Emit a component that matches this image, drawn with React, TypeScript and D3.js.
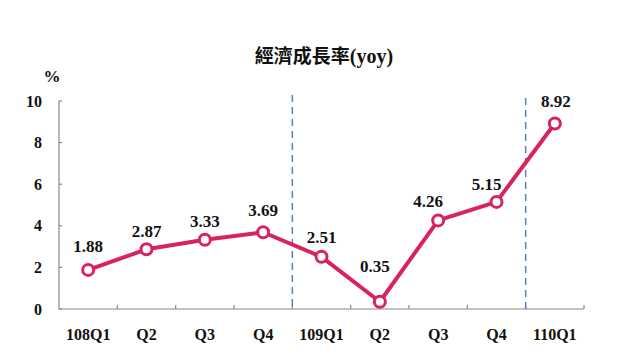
import React from "react";
import * as d3 from "d3";

const categories = ["108Q1", "Q2", "Q3", "Q4", "109Q1", "Q2", "Q3", "Q4", "110Q1"];
const values = [1.88, 2.87, 3.33, 3.69, 2.51, 0.35, 4.26, 5.15, 8.92];
const yTicks = [0, 2, 4, 6, 8, 10];
const dividerAfter = [3, 7];
const title = "經濟成長率";
const titleSuffix = "(yoy)";
const unit = "%";

// label nudges (layout only)
const labelDx = [0, 0, 0, 0, 0, -5, -10, -10, 1];
const labelDy = [-18, -12, -13, -16, -14, -30, -13, -12, -16];

const W = 640, H = 360;
const left = 59, right = 584, top = 101, bottom = 309;
const serif = "'Liberation Serif', 'Times New Roman', serif";
const red = "#d8235d";

export default function App() {
  const x = d3.scaleBand<number>().domain(d3.range(categories.length)).range([left, right]);
  const y = d3.scaleLinear().domain([0, 10]).range([bottom, top]);
  const cx = (i: number) => (x(i) as number) + x.bandwidth() / 2;
  const line = d3.line<number>().x((_, i) => cx(i)).y((d) => y(d));
  const boundaries = d3.range(categories.length + 1).map((i) => left + i * x.bandwidth());

  return (
    <svg width={W} height={H} style={{ position: "absolute", left: 0, top: 0, background: "#fff" }}>
      <text x={324} y={63} textAnchor="middle" fontSize={19} fontWeight="bold"
        fontFamily={"'Noto Sans CJK TC', " + serif} fill="#111">
        {title}<tspan fontFamily={serif} fontSize={20}>{titleSuffix}</tspan>
      </text>
      <text x={52} y={82} textAnchor="middle" fontSize={17} fontWeight="bold" fontFamily={serif} fill="#111">{unit}</text>

      {/* y axis */}
      <line x1={left} x2={left} y1={top} y2={bottom} stroke="#888" strokeWidth={1.2} />
      {yTicks.map((t) => (
        <g key={t}>
          <line x1={left} x2={left + 3} y1={y(t)} y2={y(t)} stroke="#888" strokeWidth={1.2} />
          <text x={42} y={y(t) + 5.5} textAnchor="end" fontSize={16} fontWeight="bold" fontFamily={serif} fill="#111">{t}</text>
        </g>
      ))}

      {/* x axis */}
      <line x1={left} x2={right} y1={bottom} y2={bottom} stroke="#888" strokeWidth={1.2} />
      {boundaries.slice(1).map((b, i) => (
        <line key={i} x1={b} x2={b} y1={bottom} y2={bottom - 4} stroke="#888" strokeWidth={1.2} />
      ))}
      {categories.map((c, i) => (
        <text key={i} x={cx(i)} y={340} textAnchor="middle" fontSize={16} fontWeight="bold" fontFamily={serif} fill="#111">{c}</text>
      ))}

      {/* dividers */}
      {dividerAfter.map((d, k) => (
        <line key={k} x1={boundaries[d + 1]} x2={boundaries[d + 1]} y1={k === 0 ? 95 : 98} y2={bottom}
          stroke="#5b82b5" strokeWidth={1.5} strokeDasharray="7,5" />
      ))}

      <path d={line(values) || ""} fill="none" stroke={red} strokeWidth={4} strokeLinejoin="round" />
      {values.map((v, i) => (
        <circle key={i} cx={cx(i)} cy={y(v)} r={5.5} fill="#fff" stroke={red} strokeWidth={3} />
      ))}
      {values.map((v, i) => (
        <text key={i} x={cx(i) + labelDx[i]} y={y(v) + labelDy[i]} textAnchor="middle" fontSize={17}
          fontWeight="bold" fontFamily={serif} fill="#111">{v.toFixed(2)}</text>
      ))}
    </svg>
  );
}
